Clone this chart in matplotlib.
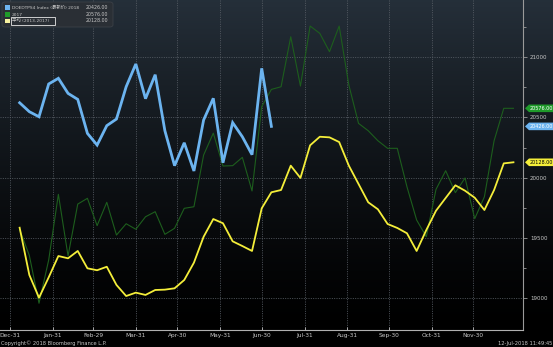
import numpy as np
import matplotlib
matplotlib.use("Agg")
import matplotlib.pyplot as plt
from matplotlib.patches import FancyBboxPatch, Rectangle, Polygon

# ---- data (weekly, x = day of a leap-year calendar starting Dec-31) ----
week_start_day = 7
series_2018 = [20622, 20548, 20506, 20778, 20825, 20700, 20650, 20368, 20271,
               20432, 20487, 20755, 20944, 20656, 20855, 20390, 20100, 20290,
               20056, 20479, 20659, 20124, 20457, 20340, 20191, 20908, 20426]
series_2017 = [19570, 19355, 18958, 19317, 19862, 19350, 19781, 19829, 19602,
               19796, 19524, 19618, 19572, 19676, 19718, 19530, 19580, 19746,
               19759, 20188, 20370, 20097, 20100, 20169, 19890, 20590, 20733,
               20755, 21170, 20761, 21259, 21198, 21046, 21259, 20769, 20451,
               20390, 20307, 20244, 20244, 19925, 19649, 19510, 19903, 20058,
               19876, 19998, 19660, 19842, 20307, 20576, 20576]
series_avg = [19585, 19193, 19004, 19173, 19350, 19331, 19392, 19248, 19232,
              19261, 19110, 19018, 19046, 19027, 19068, 19071, 19082, 19151,
              19295, 19510, 19657, 19622, 19472, 19433, 19392, 19746, 19879,
              19898, 20100, 19998, 20269, 20340, 20335, 20296, 20100, 19948,
              19796, 19738, 19616, 19583, 19539, 19392, 19566, 19726, 19832,
              19937, 19892, 19834, 19732, 19898, 20119, 20128]

month_labels = ["Dec-31", "Jan-31", "Feb-29", "Mar-31", "Apr-30", "May-31",
                "Jun-30", "Jul-31", "Aug-31", "Sep-30", "Oct-31", "Nov-30"]
month_days = [0, 31, 60, 91, 121, 152, 182, 213, 244, 274, 305, 335]
y_ticks = [19000, 19500, 20000, 20500, 21000]

legend_labels = ["DOEDTPS4 Index (最新价) 2018", "2017", "平均 (2013-2017)"]
last_values = [series_2018[-1], series_2017[-1], series_avg[-1]]

c_2018 = "#6cb4f0"
c_2017 = "#1d5e1d"
c_2017_tag = "#1f9a2a"
c_avg = "#f4ee3a"
txt_col = "#c8c8c8"

FONT = ["Liberation Sans Narrow", "DejaVu Sans", "Noto Sans CJK SC"]
plt.rcParams["font.family"] = FONT

W, H = 553, 347
fig = plt.figure(figsize=(W / 100, H / 100), dpi=100)
fig.patch.set_facecolor("black")

# vertical background gradient
bg = fig.add_axes([0, 0, 1, 1], zorder=-10)
rows = np.linspace(0, 1, 256)[:, None]
top = np.array([0.145, 0.185, 0.225])
shade = np.clip(1 - rows / 0.95, 0, 1) ** 1.3
img = shade[:, :, None] * top[None, None, :]
img = np.repeat(img, 2, axis=1)
bg.imshow(img, aspect="auto", extent=[0, 1, 0, 1])
bg.set_axis_off()

def px(x, y):
    return x / W, 1 - y / H

ax_l, ax_b = 0.0, 1 - 330 / H
ax_r, ax_t = 523 / W, 1.0
ax = fig.add_axes([ax_l, ax_b, ax_r - ax_l, ax_t - ax_b])
ax.set_facecolor("none")

x18 = [week_start_day + 7 * i for i in range(len(series_2018))]
x17 = [week_start_day + 7 * i for i in range(len(series_2017))]
xav = [week_start_day + 7 * i for i in range(len(series_avg))]

ax.plot(x17, series_2017, color=c_2017, lw=0.8, zorder=3)
ax.plot(xav, series_avg, color=c_avg, lw=1.3, zorder=4)
ax.plot(x18, series_2018, color=c_2018, lw=2.0, zorder=5,
        solid_joinstyle="miter")

ax.set_xlim(-7.2, 370.9)
ax.set_ylim(18736, 21475)

ax.set_xticks(month_days)
ax.set_xticklabels(month_labels)
ax.set_yticks(y_ticks)
ax.set_yticks([v + 250 for v in y_ticks[:-1]] + [21250], minor=True)
ax.yaxis.tick_right()
ax.tick_params(axis="y", which="major", colors="#9a9a9a", length=3,
               width=0.6, labelsize=4.0, labelcolor=txt_col, pad=2)
ax.tick_params(axis="y", which="minor", colors="#9a9a9a", length=2, width=0.6)
ax.tick_params(axis="x", colors="#c0c0c0", length=2, width=0.6,
               direction="in", labelsize=4.2, labelcolor=txt_col, pad=2)

grid_kw = dict(color="#5a6068", lw=0.6, linestyle=(0, (1.2, 1.6)))
ax.grid(True, which="major", axis="both", **grid_kw)

for s in ["top", "left"]:
    ax.spines[s].set_visible(False)
ax.spines["right"].set_color("#9a9a9a")
ax.spines["right"].set_linewidth(0.8)
ax.spines["bottom"].set_color("#b0b0b0")
ax.spines["bottom"].set_linewidth(0.8)

# value tags on the right axis (arrow-shaped labels at the last value)
tag_specs = [(series_2017[-1], c_2017_tag, "white"),
             (series_2018[-1], c_2018, "white"),
             (series_avg[-1], c_avg, "black")]
to_px = ax.transData
for val, bgc, fc in tag_specs:
    _, ydisp = to_px.transform((0, val))
    yp = H - ydisp  # pixel row from top
    tip, x0, x1, hh = 525.0, 529.0, 553.0, 3.8
    poly = [px(tip, yp), px(x0, yp - hh), px(x1, yp - hh),
            px(x1, yp + hh), px(x0, yp + hh)]
    fig.patches.append(Polygon(poly, closed=True, transform=fig.transFigure,
                               fc=bgc, ec="none", zorder=10))
    tx, ty = px(529.5, yp)
    fig.text(tx, ty, f"{val:.2f}", fontsize=3.5, color=fc, ha="left",
             va="center", zorder=11)

# legend panel
lx0, ly0 = px(2, 27)
lx1, ly1 = px(113, 2)
fig.patches.append(FancyBboxPatch((lx0, ly0), lx1 - lx0, ly1 - ly0,
                                  boxstyle="round,pad=0,rounding_size=0.006",
                                  transform=fig.transFigure, fc="#2a2f35",
                                  ec="#3b4047", lw=0.6, zorder=20))
legend_colors = [c_2018, c_2017_tag, "#f6f2a0"]
row_y = [7.5, 14.5, 21.0]
for lab, col, val, yy in zip(legend_labels, legend_colors, last_values, row_y):
    sx, sy = px(5, yy + 2.2)
    fig.patches.append(Rectangle((sx, sy), 4.5 / W, 4.5 / H,
                                 transform=fig.transFigure, fc=col, ec="none",
                                 zorder=21))
    tx, ty = px(12, yy)
    fig.text(tx, ty, lab, fontsize=3.2, color=txt_col, va="center",
             ha="left", zorder=22, family=FONT)
    vx, vy = px(108, yy)
    fig.text(vx, vy, f"{val:.2f}", fontsize=3.4, color=txt_col, va="center",
             ha="right", zorder=22, family=FONT)
bx0, by0 = px(11, 24.5)
fig.patches.append(Rectangle((bx0, by0), 44 / W, 7 / H,
                             transform=fig.transFigure, fc="none",
                             ec="#e8e8e8", lw=0.6, zorder=23))

# footer
fig.text(1 / W, 1 - 343 / H, "Copyright© 2018 Bloomberg Finance L.P.",
         fontsize=3.7, color=txt_col, va="center", ha="left")
fig.text(552 / W, 1 - 343 / H, "12-Jul-2018 11:49:45",
         fontsize=3.7, color=txt_col, va="center", ha="right")

fig.savefig("out.png", dpi=100, facecolor="black")
